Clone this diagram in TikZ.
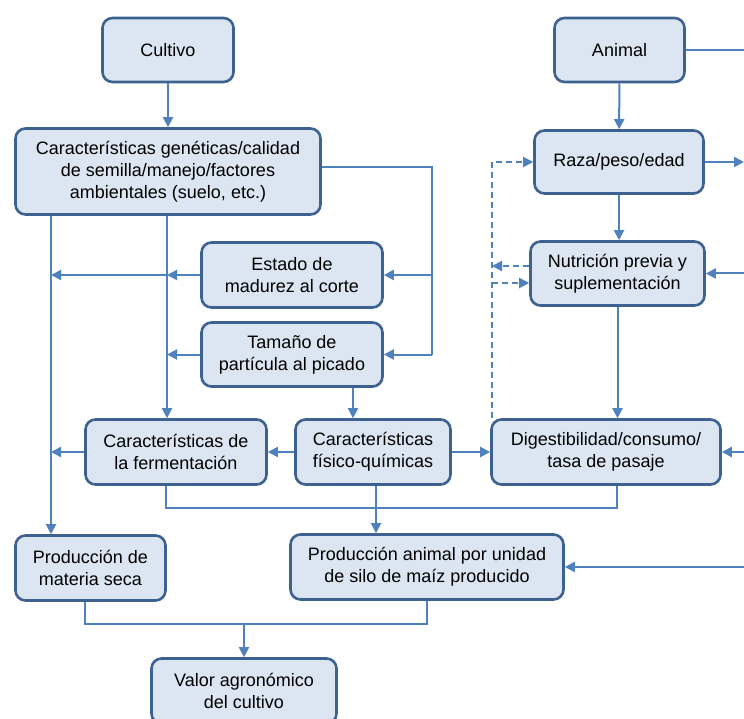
\documentclass[tikz,border=0pt]{standalone}
\usepackage{fontspec}
\setmainfont{Liberation Sans}
\usetikzlibrary{arrows.meta, positioning}
\definecolor{boxfill}{HTML}{DCE6F2}
\definecolor{boxline}{HTML}{3D6290}
\definecolor{linkcol}{HTML}{4F81BD}

\begin{document}
\begin{tikzpicture}
[	
						x=1pt, y=-1pt,
						block/.style = {draw=boxline, fill=boxfill, line width=2.6pt, rounded corners=10pt, align=center, inner sep=0pt, font=\fontsize{18}{22}\selectfont},
						link/.style = {draw=linkcol, line width=2pt},
						arr/.style = {link, -{Triangle[length=10pt,width=10pt]}},
						darr/.style = {arr, dash pattern=on 6pt off 4pt}
					]
\useasboundingbox (0,0) rectangle (744,719);
\node[block, minimum width=131pt, minimum height=64pt] (cultivo) at (168,50) {Cultivo};
\node[block, minimum width=305pt, minimum height=86pt] (geneticas) at (168,171.5) {Características genéticas/calidad\\de semilla/manejo/factores\\ambientales (suelo, etc.)};
\node[block, minimum width=130pt, minimum height=64pt] (animal) at (619.5,50) {Animal};
\node[block, minimum width=169pt, minimum height=63pt] (raza) at (619,162) {Raza/peso/edad};
\node[block, minimum width=174pt, minimum height=64pt] (nutricion) at (617.5,273.5) {Nutrición previa y\\suplementación};
\node[block, minimum width=181pt, minimum height=65pt] (madurez) at (292,275) {Estado de\\madurez al corte};
\node[block, minimum width=181pt, minimum height=64pt] (particula) at (292,354.5) {Tamaño de\\partícula al picado};
\node[block, minimum width=181pt, minimum height=65pt] (fermentacion) at (176,452) {Características de\\la fermentación};
\node[block, minimum width=155pt, minimum height=65pt] (fisicoquim) at (373,452) {Características\\físico-químicas};
\node[block, minimum width=229pt, minimum height=65pt] (digest) at (606,452) {Digestibilidad/consumo/\\tasa de pasaje};
\node[block, minimum width=150pt, minimum height=65pt] (materiaseca) at (90.5,568) {Producción de\\materia seca};
\node[block, minimum width=273pt, minimum height=65pt] (prodanimal) at (427,567) {Producción animal por unidad\\de silo de maíz producido};
\node[block, minimum width=185pt, minimum height=65pt] (valor) at (244,691) {Valor agronómico\\del cultivo};

\coordinate (lbus) at (51,0);
\coordinate (mbus) at (167,0);
\coordinate (rbus) at (432,0);
\coordinate (dbus) at (617,508);
\coordinate (vbus) at (244,624);
\coordinate (dash) at (492,0);
\coordinate (edge) at (744,0);
\coordinate (nutout) at ([yshift=7.5pt]nutricion.west);
\coordinate (nutin) at ([yshift=-9.5pt]nutricion.west);

\draw[arr] (cultivo) -- (geneticas);
\draw[link] ([yshift=4pt]geneticas.east) -| (rbus |- particula.east);
\draw[arr] (rbus |- madurez.east) -- (madurez.east);
\draw[arr] (rbus |- particula.east) -- (particula.east);
\draw[arr] (lbus |- geneticas.south) -- (lbus |- materiaseca.north);
\draw[arr] (mbus |- geneticas.south) -- (mbus |- fermentacion.north);
\draw[arr] (madurez.west) -- (mbus |- madurez.west);
\draw[arr] (mbus |- madurez.west) -- (lbus |- madurez.west);
\draw[arr] (particula.west) -- (mbus |- particula.west);
\draw[arr] ([xshift=61pt]particula.south) -- ([xshift=61pt]particula.south |- fisicoquim.north);
\draw[arr] (fisicoquim) -- (fermentacion);
\draw[arr] (fisicoquim) -- (digest);
\draw[arr] (fermentacion.west) -- (lbus |- fermentacion.west);
\draw[link] ([xshift=-10pt]fermentacion.south) |- (dbus) -- (dbus |- digest.south);
\draw[arr] ([xshift=3pt]fisicoquim.south) -- ([xshift=3pt]fisicoquim.south |- prodanimal.north);
\draw[link] ([xshift=-6pt]materiaseca.south) |- (vbus) -| (prodanimal.south);
\draw[arr] (vbus) -- (valor);

\draw[arr] (animal) -- (raza);
\draw[arr] (raza.south) -- (raza.south |- nutricion.north);
\draw[arr] (nutricion.south) -- (nutricion.south |- digest.north);
\draw[link] (animal.east) -- (edge |- animal.east);
\draw[arr] (raza.east) -- (edge |- raza.east);
\draw[arr] (edge |- nutricion.east) -- (nutricion.east);
\draw[arr] (edge |- digest.east) -- (digest.east);
\draw[arr] (edge |- prodanimal.east) -- (prodanimal.east);

\draw[darr] (dash |- digest.north) |- (raza.west);
\draw[darr] (nutout) -- (dash |- nutout);
\draw[darr] (dash |- nutin) -- (nutin);
\end{tikzpicture}
\end{document}
